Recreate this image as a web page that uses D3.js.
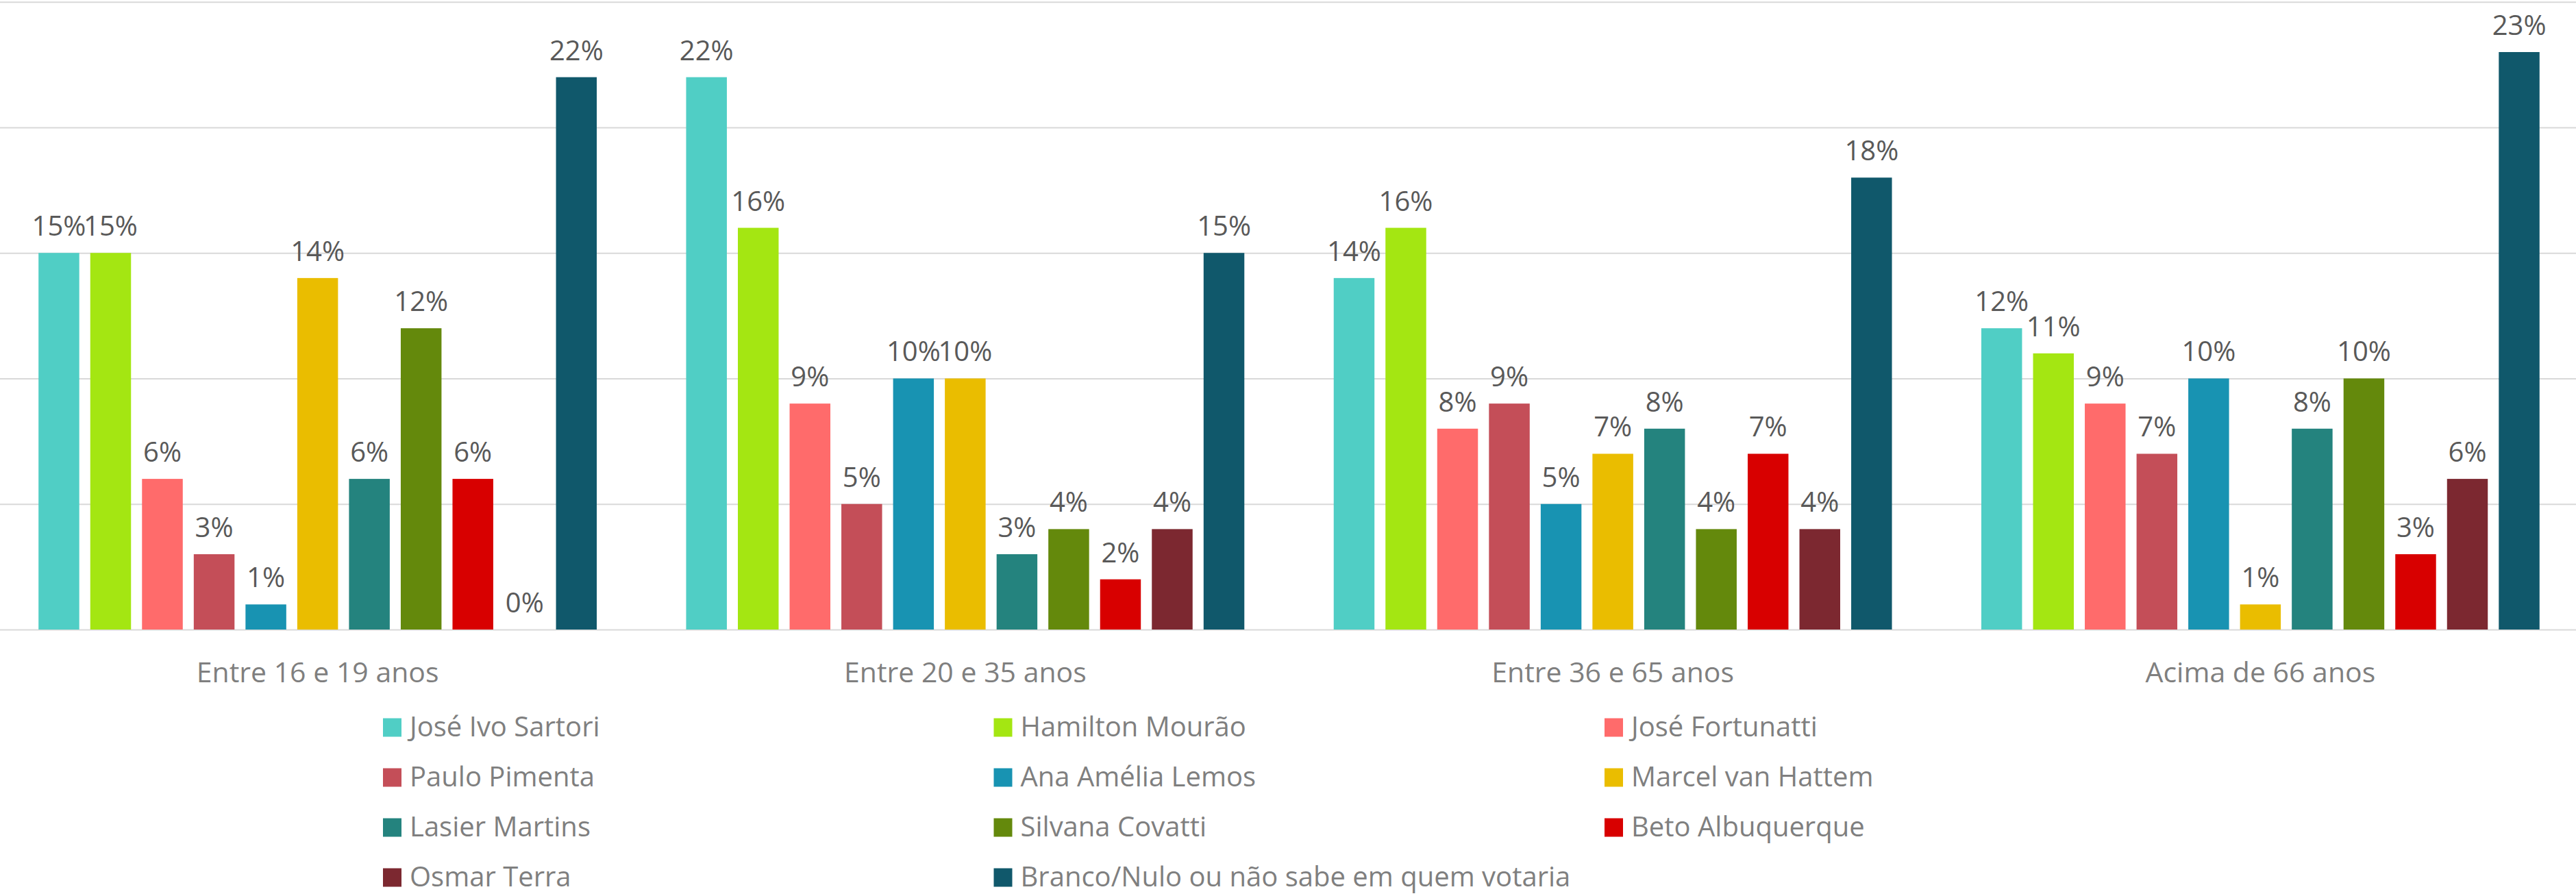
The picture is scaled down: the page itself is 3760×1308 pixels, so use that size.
<!DOCTYPE html>
<html lang="pt">

<head>
    <meta charset="UTF-8">
    <title>Intenção de voto por faixa etária</title>
    <script src="https://cdn.jsdelivr.net/npm/d3@7"></script>
    <style>
        * {
            margin: 0;
            padding: 0;
        }

        body {
            background: #fff;
            overflow: hidden;
        }

        svg text {
            font-family: "Open Sans", sans-serif;
        }
    </style>
</head>

<body>
    <div id="chart"></div>
    <script>
        // faixas etárias (categorias)
        var categories = ["Entre 16 e 19 anos", "Entre 20 e 35 anos", "Entre 36 e 65 anos", "Acima de 66 anos"];

        // candidatos (séries)
        var series = ["José Ivo Sartori", "Hamilton Mourão", "José Fortunatti", "Paulo Pimenta", "Ana Amélia Lemos",
            "Marcel van Hattem", "Lasier Martins", "Silvana Covatti", "Beto Albuquerque", "Osmar Terra",
            "Branco/Nulo ou não sabe em quem votaria"];

        var colors = ["#50cec5", "#a4e612", "#ff6b6b", "#c44e58", "#1893b2", "#eabd00",
            "#24837e", "#64890c", "#d80000", "#7c2830", "#10586b"];

        // valores em % por série, na ordem das categorias
        var sartori = [15, 22, 14, 12];
        var mourao = [15, 16, 16, 11];
        var fortunatti = [6, 9, 8, 9];
        var pimenta = [3, 5, 9, 7];
        var anaAmelia = [1, 10, 5, 10];
        var vanHattem = [14, 10, 7, 1];
        var lasier = [6, 3, 8, 8];
        var covatti = [12, 4, 4, 10];
        var beto = [6, 2, 7, 3];
        var osmar = [0, 4, 4, 6];
        var branco = [22, 15, 18, 23];

        var values = [sartori, mourao, fortunatti, pimenta, anaAmelia, vanHattem,
            lasier, covatti, beto, osmar, branco];

        var yTicks = [0, 5, 10, 15, 20, 25];

        var W = 3760, H = 1308;

        var svg = d3.select("#chart").append("svg")
            .attr("width", W)
            .attr("height", H);

        // escalas
        var x0 = d3.scaleBand()
            .domain(categories)
            .range([-9, 3772])
            .paddingInner(0.138)
            .paddingOuter(0.069);

        var x1 = d3.scaleBand()
            .domain(series)
            .range([0, x0.bandwidth()])
            .paddingInner(0.2125)
            .paddingOuter(0);

        var y = d3.scaleLinear()
            .domain([0, 25])
            .range([919, 2.7]);

        // linhas de grade
        var grid = svg.append("g")
            .attr("transform", "translate(-9,0)")
            .call(d3.axisLeft(y).tickValues(yTicks).tickSize(-3781).tickFormat(""));
        grid.select(".domain").remove();
        grid.selectAll("line")
            .attr("stroke", "#d9d9d9")
            .attr("stroke-width", 2);

        // barras
        var rows = [];
        categories.forEach(function (c, ci) {
            series.forEach(function (s, si) {
                rows.push({ cat: c, name: s, idx: si, value: values[si][ci] });
            });
        });

        var bars = svg.append("g").selectAll("g")
            .data(rows)
            .enter()
            .append("g")
            .attr("transform", function (d) {
                return "translate(" + (x0(d.cat) + x1(d.name)) + ",0)";
            });

        bars.append("rect")
            .attr("x", 0)
            .attr("width", x1.bandwidth())
            .attr("y", function (d) { return y(d.value); })
            .attr("height", function (d) { return y(0) - y(d.value); })
            .attr("fill", function (d) { return colors[d.idx]; });

        // rótulos de dados
        bars.append("text")
            .attr("x", x1.bandwidth() / 2)
            .attr("y", function (d) { return y(d.value) - 25; })
            .attr("text-anchor", "middle")
            .attr("font-size", 40)
            .attr("fill", "#595959")
            .text(function (d) { return d.value + "%"; });

        // eixo das categorias
        var xAxis = svg.append("g")
            .attr("transform", "translate(0," + y(0) + ")")
            .call(d3.axisBottom(x0).tickSize(0));
        xAxis.select(".domain").remove();
        xAxis.selectAll("text")
            .attr("y", 77)
            .attr("dy", 0)
            .attr("font-size", 41)
            .attr("fill", "#7f7f7f")
            .attr("font-family", "Open Sans, sans-serif");

        // legenda: 3 colunas
        var legend = svg.append("g").selectAll("g")
            .data(series)
            .enter()
            .append("g")
            .attr("transform", function (d, i) {
                var col = i % 3, row = Math.floor(i / 3);
                return "translate(" + (559 + col * 891.5) + "," + (1062 + row * 73) + ")";
            });

        legend.append("rect")
            .attr("x", 0)
            .attr("y", -13.5)
            .attr("width", 27)
            .attr("height", 27)
            .attr("fill", function (d, i) { return colors[i]; });

        legend.append("text")
            .attr("x", 39)
            .attr("y", 13)
            .attr("font-size", 40)
            .attr("fill", "#7f7f7f")
            .text(function (d) { return d; });
    </script>
</body>

</html>
